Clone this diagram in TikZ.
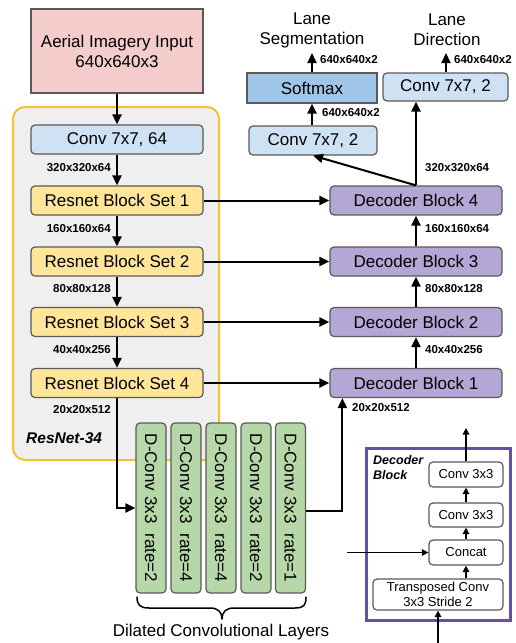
\documentclass[tikz,border=0pt]{standalone}
\usepackage{fontspec}
\setmainfont{Liberation Sans}
\usetikzlibrary{arrows.meta,calc}
\definecolor{cpink}{HTML}{F4CCCC}
\definecolor{cblue}{HTML}{CFE2F3}
\definecolor{cyel}{HTML}{FFE599}
\definecolor{cpur}{HTML}{B4A7D6}
\definecolor{cgreen}{HTML}{B6D7A8}
\definecolor{csoft}{HTML}{9FC5E8}
\definecolor{cgray}{HTML}{EFEFEF}
\definecolor{corange}{HTML}{F1C232}
\definecolor{cframe}{HTML}{674EA7}
\definecolor{cbord}{HTML}{595959}
\tikzset{
  box/.style={draw=cbord, line width=1.2pt, rounded corners=4pt, inner sep=0pt, align=center,
    font=\fontsize{17}{20}\selectfont},
  mbox/.style={box, minimum width=172pt, minimum height=29pt},
  dconv/.style={box, fill=cgreen, minimum width=30pt, minimum height=170pt},
  ibox/.style={box, fill=white, font=\fontsize{13}{16}\selectfont},
  dim/.style={font=\fontsize{11.5}{13}\selectfont\bfseries, inner sep=0pt},
  arr/.style={line width=2pt, -{Triangle[length=10pt,width=9pt]}},
  iarr/.style={line width=1.4pt, -{Triangle[length=6.5pt,width=6.5pt]}},
}
\begin{document}
\begin{tikzpicture}[x=1pt,y=-1pt]
\useasboundingbox (0,0) rectangle (515,643);
% ResNet container
\draw[fill=cgray, draw=corange, line width=2pt, rounded corners=12pt] (13,107) rectangle (219,460);
\node[font=\fontsize{15.5}{18}\selectfont\bfseries\itshape, anchor=west, inner sep=0pt] (rn) at (26,438) {ResNet-34};

% encoder
\node[box, fill=cpink, minimum width=172pt, minimum height=84pt, rounded corners=0pt] (inp) at (117,51) {Aerial Imagery Input\\640x640x3};
\node[mbox, fill=cblue] (conv1) at (117,139.5) {Conv 7x7, 64};
\node[mbox, fill=cyel] (rb1) at (117,200.5) {Resnet Block Set 1};
\node[mbox, fill=cyel] (rb2) at (117,261.5) {Resnet Block Set 2};
\node[mbox, fill=cyel] (rb3) at (117,322) {Resnet Block Set 3};
\node[mbox, fill=cyel] (rb4) at (117,383) {Resnet Block Set 4};

\draw[arr] (inp) -- (conv1);
\draw[arr] (conv1) -- (rb1);
\draw[arr] (rb1) -- (rb2);
\draw[arr] (rb2) -- (rb3);
\draw[arr] (rb3) -- (rb4);

\node[dim, anchor=east] (l1) at (111,168) {320x320x64};
\node[dim, anchor=east] (l2) at (111,229) {160x160x64};
\node[dim, anchor=east] (l3) at (111,289) {80x80x128};
\node[dim, anchor=east] (l4) at (111,350) {40x40x256};
\node[dim, anchor=east] (l5) at (111,410) {20x20x512};

% decoder
\node[mbox, fill=cpur] (db4) at (416,200.5) {Decoder Block 4};
\node[mbox, fill=cpur] (db3) at (416,261.5) {Decoder Block 3};
\node[mbox, fill=cpur] (db2) at (416,322) {Decoder Block 2};
\node[mbox, fill=cpur] (db1) at (416,383) {Decoder Block 1};

\draw[arr] (rb1) -- (db4);
\draw[arr] (rb2) -- (db3);
\draw[arr] (rb3) -- (db2);
\draw[arr] (rb4) -- (db1);
\draw[arr] (db1) -- (db2);
\draw[arr] (db2) -- (db3);
\draw[arr] (db3) -- (db4);

\node[dim, anchor=west] (r1) at (425,168) {320x320x64};
\node[dim, anchor=west] (r2) at (425,229) {160x160x64};
\node[dim, anchor=west] (r3) at (425,289) {80x80x128};
\node[dim, anchor=west] (r4) at (425,350) {40x40x256};
\node[dim, anchor=west] (r5) at (352,408) {20x20x512};

% heads
\node[box, fill=csoft, rounded corners=0pt, minimum width=130pt, minimum height=30pt] (soft) at (312,88) {Softmax};
\node[box, fill=cblue, minimum width=128pt, minimum height=29pt] (convL) at (313,140.5) {Conv 7x7, 2};
\node[box, fill=cblue, minimum width=125pt, minimum height=28pt] (convR) at (445.5,87) {Conv 7x7, 2};
\node[align=center, font=\fontsize{17}{20}\selectfont, inner sep=0pt] (seg) at (312,30) {Lane\\Segmentation};
\node[align=center, font=\fontsize{17}{20}\selectfont, inner sep=0pt] (dir) at (447,30) {Lane\\Direction};
\coordinate (segin) at (312,53);
\coordinate (dirin) at (446,53);
\draw[arr] (soft.north) -- (segin);
\draw[arr] (convR.north -| dirin) -- (dirin);
\draw[arr] (convL.north -| soft.north) -- (soft.south);
\draw[arr] (db4.north) -- (db4.north |- convR.south);
\draw[arr] (db4.north) -- (convL.south);
\node[dim, anchor=west] (t1) at (320,60) {640x640x2};
\node[dim, anchor=west] (t2) at (322,113) {640x640x2};
\node[dim, anchor=west] (t3) at (454,60) {640x640x2};

% dilated convs
\foreach \i/\x/\r in {1/151/2,2/186/4,3/221/4,4/256/2,5/290.5/1}{
  \node[dconv] (dc\i) at (\x,508) {};
  \node[rotate=-90, font=\fontsize{17}{20}\selectfont, inner sep=0pt] (dct\i) at (dc\i) {D-Conv 3x3\hspace{10pt}rate=\r};
}
\draw[arr] (rb4.south) |- (dc1.west);
\coordinate (dup) at ($(db1.south west)+(13,0)$);
\draw[arr] ([yshift=-3pt]dc5.east) -| (dup);
% brace
\draw[line width=1.5pt, line cap=round, line join=round]
  (137,597) .. controls (137,605) and (140,608) .. (149,608)
  -- (210,608) .. controls (218,608) and (222,612) .. (222,619)
  .. controls (222,612) and (226,608) .. (234,608)
  -- (295,608) .. controls (304,608) and (306,605) .. (306,597);
\node[font=\fontsize{17}{20}\selectfont, inner sep=0pt] (dil) at (221,632) {Dilated Convolutional Layers};

% decoder block inset
\draw[draw=cframe, line width=3pt] (366,448) rectangle (510,620);
\node[anchor=north west, align=left, inner sep=0pt, font=\fontsize{12.5}{15.5}\selectfont\bfseries\itshape] (dbt) at (373,455) {Decoder\\Block};
\node[ibox, minimum width=74pt, minimum height=25pt] (ic1) at (466,474.5) {Conv 3x3};
\node[ibox, minimum width=74pt, minimum height=24pt] (ic2) at (466,515) {Conv 3x3};
\node[ibox, minimum width=74pt, minimum height=25pt] (cat) at (466,552.5) {Concat};
\node[ibox, minimum width=130pt, minimum height=31pt, font=\fontsize{13}{15.5}\selectfont] (tc) at (438,594.5) {Transposed Conv\\3x3 Stride 2};
\coordinate (tcin) at (438,643);
\coordinate (icout) at (466,428);
\coordinate (catin) at (347,552.5);
\draw[iarr] (tcin) -- (tc.south);
\draw[iarr] (cat.south |- tc.north) -- (cat.south);
\draw[iarr] (cat) -- (ic2);
\draw[iarr] (ic2) -- (ic1);
\draw[iarr] (ic1.north) -- (icout);
\draw[iarr] (catin) -- (cat.west);
\end{tikzpicture}
\end{document}
